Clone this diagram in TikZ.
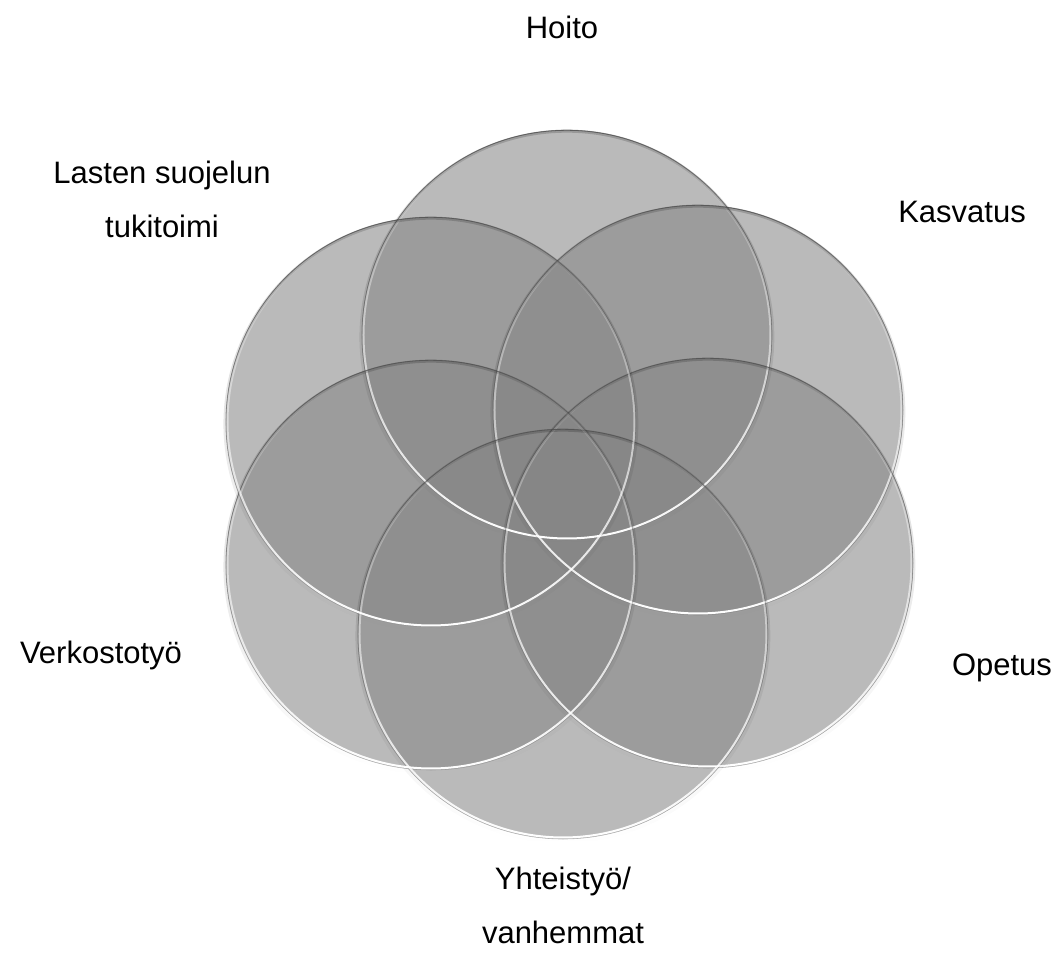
\documentclass[tikz,border=0pt]{standalone}
\usepackage{fontspec}
\setmainfont{Liberation Sans}
\usepackage{xcolor}
\usetikzlibrary{fadings}

\definecolor{vennfill}{RGB}{133,133,133}
\definecolor{vennline}{RGB}{80,80,80}

\begin{document}
\begin{tikzpicture}[x=1pt, y=-1pt,
					venn circle/.style={circle, inner sep=0pt, minimum size=410pt, fill=vennfill, fill opacity=0.565, draw=black!40, draw opacity=0.6, line width=0.6pt},
					venn rim/.style={draw=vennline, draw opacity=0.8, line width=0.8pt, path fading=south},
					venn shadow/.style={draw=black, draw opacity=0.18, line width=3pt, path fading=south},
					venn gloss/.style={draw=white, line width=2pt, path fading=north},
					venn label/.style={font=\fontsize{31}{54}\selectfont, align=center},
				]
					\useasboundingbox (0,0) rectangle (1057,953);

					\node[venn circle] (hoito) at (567,335) {};
					\node[venn circle] (kasvatus) at (698,410) {};
					\node[venn circle] (opetus) at (708,563) {};
					\node[venn circle] (yhteistyo) at (563,634) {};
					\node[venn circle] (verkosto) at (431,565) {};
					\node[venn circle] (lasten) at (431,422) {};

					% shadow and dark rim below, light rim on top
					\foreach \c in {hoito,kasvatus,opetus,yhteistyo,verkosto,lasten} {
						\draw[venn shadow] ([yshift=-2pt]\c.center) circle (206pt);
						\draw[venn rim] (\c.center) circle (205pt);
						\draw[venn gloss] (\c.center) circle (203.5pt);
					}

					\node[venn label, anchor=base] (hoitolabel) at (562,38) {Hoito};
					\node[venn label] (lastenlabel) at (162,199) {Lasten suojelun\\tukitoimi};
					\node[venn label, anchor=base] (kasvatuslabel) at (962,222) {Kasvatus};
					\node[venn label, anchor=base] (opetuslabel) at (1002,675) {Opetus};
					\node[venn label] (yhteistyolabel) at (563,905) {Yhteistyö/\\vanhemmat};
					\node[venn label, anchor=base] (verkostolabel) at (101,663) {Verkostotyö};
				\end{tikzpicture}
\end{document}
